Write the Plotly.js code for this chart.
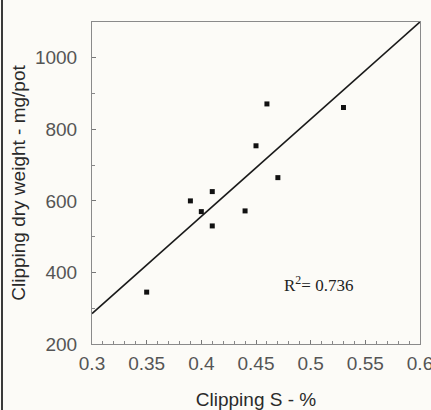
<!DOCTYPE html>
<html>
<head>
<meta charset="utf-8">
<script src="https://cdn.plot.ly/plotly-3.0.1.min.js"></script>
<style>
  html, body { margin: 0; padding: 0; background: #fcfbf7; }
  #wrap { position: relative; width: 431px; height: 410px; overflow: hidden; }
  #chart { position: absolute; left: 0; top: 0; width: 431px; height: 410px; }
  #edge { position: absolute; left: 1px; top: 0; width: 2px; height: 410px; background: #3a3a3a; }
</style>
</head>
<body>
<div id="wrap">
  <div id="chart"></div>
  <div id="edge"></div>
</div>
<script>
// Data
var clippingS = [0.35, 0.39, 0.40, 0.41, 0.41, 0.44, 0.45, 0.46, 0.47, 0.53];
var dryWeight = [345, 600, 570, 626, 530, 572, 754, 871, 665, 861];

// Tick labels
var xTickVals = [0.3, 0.35, 0.4, 0.45, 0.5, 0.55, 0.6];
var xTickText = ['0.3', '0.35', '0.4', '0.45', '0.5', '0.55', '0.6'];
var yTickVals = [200, 400, 600, 800, 1000];
var yTickText = ['200', '400', '600', '800', '1000'];

// Regression line (as drawn in the reference)
var fitSlope = 2717;
var fitIntercept = -530;
var fitX = [0.3, 0.6];
var fitY = fitX.map(function (x) { return fitIntercept + fitSlope * x; });

var r2Label = 'R<sup>2</sup>= 0.736';
var xTitle = 'Clipping S - %';
var yTitle = 'Clipping dry weight - mg/pot';

var traces = [
  {
    x: fitX, y: fitY, type: 'scatter', mode: 'lines',
    line: { color: '#1a1a1a', width: 1.6 },
    hoverinfo: 'skip', showlegend: false, cliponaxis: true
  },
  {
    x: clippingS, y: dryWeight, type: 'scatter', mode: 'markers',
    marker: { symbol: 'square', size: 5, color: '#111111' },
    showlegend: false
  }
];

var layout = {
  width: 431, height: 410,
  margin: { l: 92, r: 11, t: 22, b: 66, pad: 0 },
  paper_bgcolor: '#fcfbf7',
  plot_bgcolor: '#fcfbf7',
  font: { family: 'Liberation Sans, Arial, sans-serif', size: 19, color: '#4a4a4a' },
  xaxis: {
    range: [0.3, 0.6],
    tickmode: 'array', tickvals: xTickVals, ticktext: xTickText,
    showgrid: false, zeroline: false,
    showline: true, mirror: true, linecolor: '#8a8a8a', linewidth: 1,
    ticks: 'inside', ticklen: 4, tickcolor: '#777', tickwidth: 1,
    minor: { tickmode: 'linear', tick0: 0.3, dtick: 0.01, ticks: 'inside', ticklen: 3, tickcolor: '#888', showgrid: false },
    tickfont: { size: 19, color: '#555' },
    ticklabelstandoff: 2,
    ticklabeloverflow: 'allow',
    title: { text: xTitle, font: { size: 19, color: '#2a2a2a' }, standoff: 22 },
    automargin: false
  },
  yaxis: {
    range: [200, 1100],
    tickmode: 'array', tickvals: yTickVals, ticktext: yTickText,
    showgrid: false, zeroline: false,
    showline: true, mirror: true, linecolor: '#8a8a8a', linewidth: 1,
    ticks: 'inside', ticklen: 4, tickcolor: '#777', tickwidth: 1,
    minor: { tickmode: 'linear', tick0: 200, dtick: 100, ticks: 'inside', ticklen: 3, tickcolor: '#888', showgrid: false },
    tickfont: { size: 19, color: '#555' },
    ticklabelstandoff: 10,
    title: { text: yTitle, font: { size: 19, color: '#2a2a2a' }, standoff: 4 },
    automargin: false
  },
  annotations: [
    {
      x: 0.474, y: 368, xref: 'x', yref: 'y',
      xanchor: 'left', yanchor: 'middle',
      text: r2Label, showarrow: false,
      font: { family: 'Liberation Serif, Times New Roman, serif', size: 17, color: '#222' }
    }
  ]
};

Plotly.newPlot('chart', traces, layout, { displayModeBar: false, staticPlot: true });
</script>
</body>
</html>
